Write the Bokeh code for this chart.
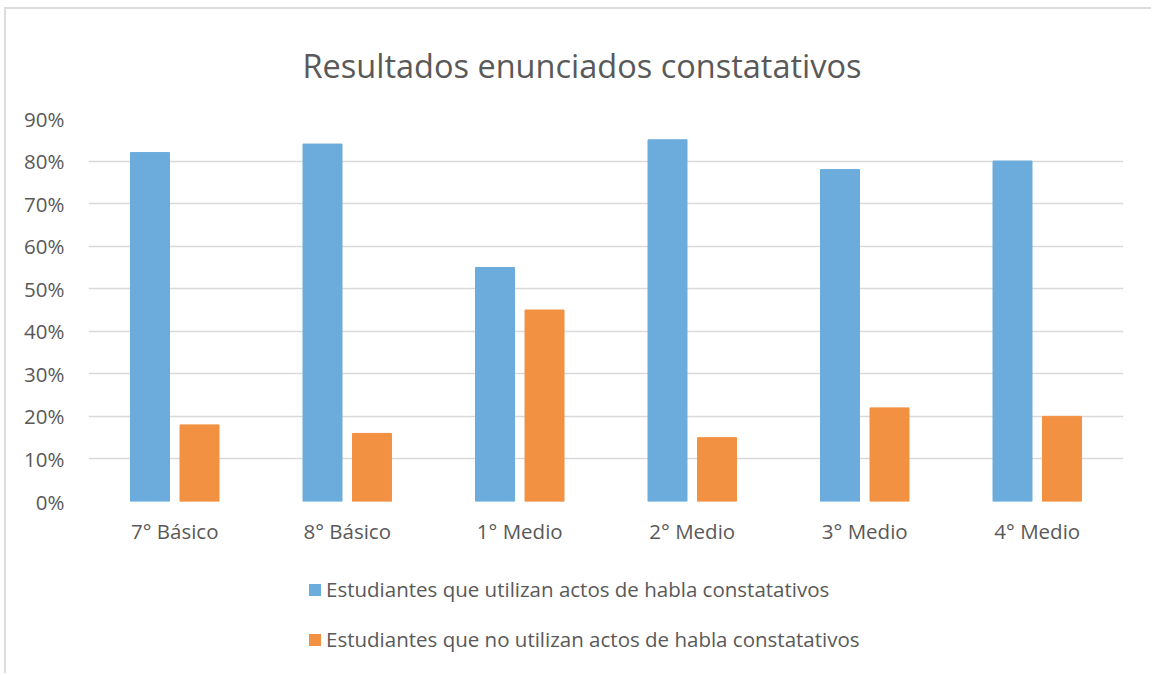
from bokeh.plotting import figure
from bokeh.layouts import column
from bokeh.models import ColumnDataSource, FactorRange, NumeralTickFormatter, Legend, LegendItem, Title, SingleIntervalTicker
from bokeh.transform import dodge
from bokeh.embed import file_html
from bokeh.resources import INLINE

categories = ["7° Básico", "8° Básico", "1° Medio", "2° Medio", "3° Medio", "4° Medio"]
utilizan = [0.82, 0.84, 0.55, 0.85, 0.78, 0.80]
no_utilizan = [0.18, 0.16, 0.45, 0.15, 0.22, 0.20]
series_names = ["Estudiantes que utilizan actos de habla constatativos",
                "Estudiantes que no utilizan actos de habla constatativos"]
title_text = "Resultados enunciados constatativos"

BLUE = "#6CACDD"
ORANGE = "#F29141"
TXT = "#595959"
GRID = "#D9D9D9"
FONT = "Open Sans"

src = ColumnDataSource(dict(cat=categories, a=utilizan, b=no_utilizan))

p = figure(x_range=FactorRange(*categories, range_padding=0), y_range=(0, 0.9),
           width=1145, height=551, output_backend="svg", toolbar_location=None,
           min_border_left=82, min_border_right=28, min_border_top=108, min_border_bottom=59)

r1 = p.vbar(x=dodge("cat", -0.1435, range=p.x_range), top="a", width=0.226, source=src,
            fill_color=BLUE, line_color=BLUE)
r2 = p.vbar(x=dodge("cat", 0.1435, range=p.x_range), top="b", width=0.226, source=src,
            fill_color=ORANGE, line_color=ORANGE)

t = Title(text=title_text, align="left", text_font=FONT, text_font_size="32.5px",
          text_color=TXT, text_font_style="normal", standoff=62, offset=214)
p.add_layout(t, "above")

p.outline_line_color = None
p.xgrid.grid_line_color = None
p.ygrid.grid_line_color = GRID
p.ygrid.grid_line_width = 1.5
p.yaxis.ticker = SingleIntervalTicker(interval=0.1)
p.yaxis.formatter = NumeralTickFormatter(format="0%")

for ax in (p.xaxis[0], p.yaxis[0]):
    ax.axis_line_color = None
    ax.major_tick_line_color = None
    ax.minor_tick_line_color = None
    ax.major_label_text_font = FONT
    ax.major_label_text_font_size = "20.5px"
    ax.major_label_text_color = TXT
p.xaxis.major_label_standoff = 9
p.yaxis.major_label_standoff = 18

# legend area (frame is aligned with the main plot's frame)
p2 = figure(width=1145, height=113, x_range=(0, 1), y_range=(0, 1),
            output_backend="svg", toolbar_location=None,
            x_axis_location=None, y_axis_location=None,
            min_border_left=0, min_border_right=0, min_border_top=0, min_border_bottom=0)
p2.grid.grid_line_color = None
p2.outline_line_color = None
l1 = p2.vbar(x=[0], top=[0], width=0, fill_color=BLUE, line_color=None)
l2 = p2.vbar(x=[0], top=[0], width=0, fill_color=ORANGE, line_color=None)

legend = Legend(items=[LegendItem(label=series_names[0], renderers=[l1]),
                       LegendItem(label=series_names[1], renderers=[l2])],
                location=(219, 20), orientation="vertical",
                label_text_font=FONT, label_text_font_size="20.5px", label_text_color=TXT,
                glyph_width=15, glyph_height=15, label_height=20, spacing=22,
                label_standoff=4, padding=0, margin=0,
                border_line_color=None, background_fill_alpha=0)
p2.add_layout(legend, "center")

layout = column(p, p2, spacing=0)
layout.styles = {"border-left": "2px solid #DCDCDC", "border-top": "2px solid #DCDCDC",
                 "margin-left": "4px", "margin-top": "7px"}

open("out.html", "w").write(file_html(layout, INLINE))
